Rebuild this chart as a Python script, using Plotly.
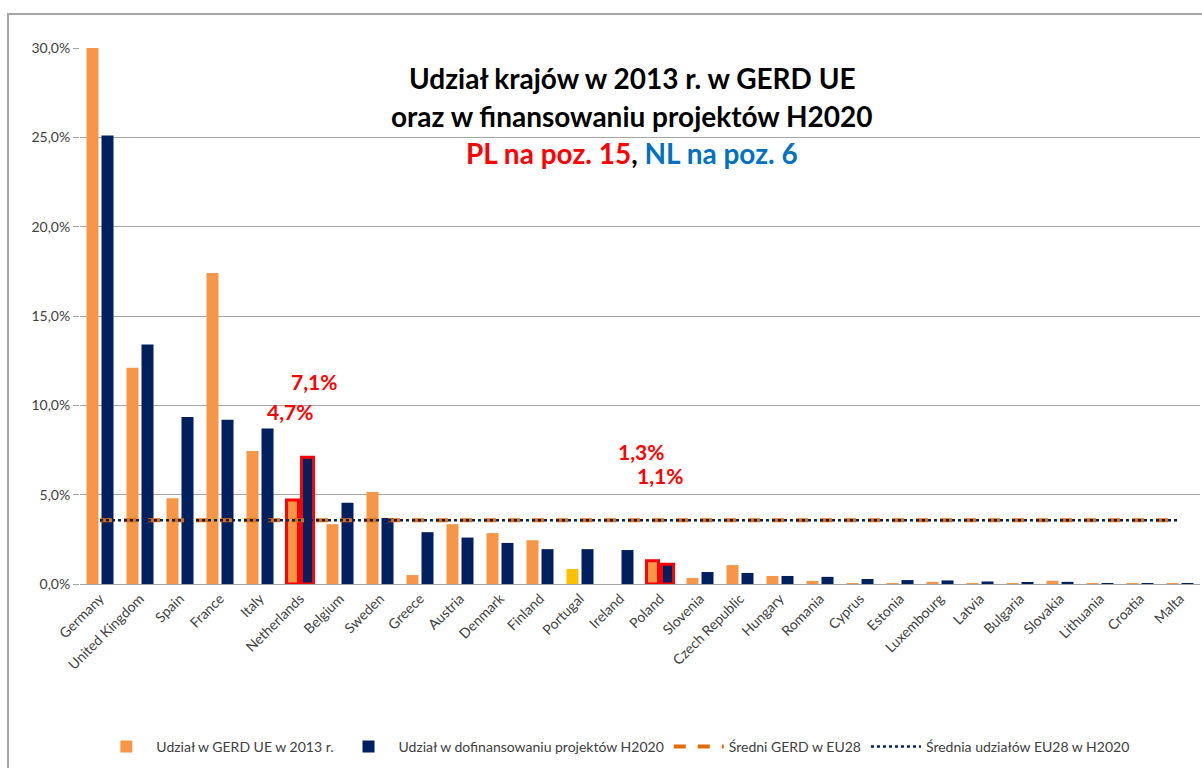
import plotly.graph_objects as go

countries = ["Germany", "United Kingdom", "Spain", "France", "Italy", "Netherlands", "Belgium",
             "Sweden", "Greece", "Austria", "Denmark", "Finland", "Portugal", "Ireland", "Poland",
             "Slovenia", "Czech Republic", "Hungary", "Romania", "Cyprus", "Estonia", "Luxembourg",
             "Latvia", "Bulgaria", "Slovakia", "Lithuania", "Croatia", "Malta"]
gerd_share = [30.0, 12.1, 4.8, 17.4, 7.45, 4.7, 3.35, 5.15, 0.5, 3.35, 2.85, 2.45, 0.84, 0.0, 1.3,
              0.34, 1.06, 0.45, 0.17, 0.02, 0.02, 0.12, 0.02, 0.03, 0.18, 0.02, 0.02, 0.02]
h2020_share = [25.1, 13.4, 9.35, 9.2, 8.7, 7.1, 4.55, 3.7, 2.9, 2.6, 2.3, 1.95, 1.95, 1.9, 1.1,
               0.67, 0.62, 0.45, 0.4, 0.28, 0.22, 0.2, 0.14, 0.1, 0.12, 0.02, 0.02, 0.02]
mean_gerd = [3.57] * len(countries)
mean_h2020 = [3.57] * len(countries)

ORANGE = "#F79646"
NAVY = "#002060"
GOLD = "#FFC000"
RED = "#FF0000"

gerd_colors = [GOLD if c == "Portugal" else ORANGE for c in countries]
hl = {"Netherlands", "Poland"}
line_cols = [RED if c in hl else "rgba(0,0,0,0)" for c in countries]
line_w = [3 if c in hl else 0 for c in countries]

fig = go.Figure()
fig.add_trace(go.Bar(x=countries, y=gerd_share, name="Udział w GERD UE w 2013 r.",
                     marker=dict(color=gerd_colors, line=dict(color=line_cols, width=line_w))))
fig.add_trace(go.Bar(x=countries, y=h2020_share, name="Udział w dofinansowaniu projektów H2020",
                     marker=dict(color=NAVY, line=dict(color=line_cols, width=line_w))))
fig.add_trace(go.Scatter(x=countries, y=mean_gerd, mode="lines", name="Średni GERD w EU28",
                         line=dict(color="#E36C09", width=4, dash="dash")))
fig.add_trace(go.Scatter(x=countries, y=mean_h2020, mode="lines", name="Średnia udziałów EU28 w H2020",
                         line=dict(color=NAVY, width=2.5, dash="dot")))

font_main = "Lato, 'Open Sans', sans-serif"

annos = []
title_lines = [
    ("Udział krajów w 2013 r. w GERD UE", 0.944),
    ("oraz w finansowaniu projektów H2020", 0.873),
    ("<span style='color:#FF0000'>PL na poz. 15</span>, <span style='color:#0070C0'>NL na poz. 6</span>", 0.804),
]
for txt, yy in title_lines:
    annos.append(dict(text=txt, x=0.493, y=yy, xref="paper", yref="paper", showarrow=False,
                      xanchor="center", yanchor="middle",
                      font=dict(family=font_main, size=28, color="#000000", weight="bold")))

for txt, cat, val, xs in [("7,1%", "Netherlands", 11.36, 14), ("4,7%", "Netherlands", 9.68, -10),
                          ("1,3%", "Poland", 7.44, -19), ("1,1%", "Poland", 6.1, 0)]:
    annos.append(dict(text=txt, x=cat, y=val, xref="x", yref="y", showarrow=False, xshift=xs,
                      xanchor="center", yanchor="middle",
                      font=dict(family=font_main, size=21, color=RED, weight="bold")))

fig.update_layout(
    width=1202, height=768,
    margin=dict(l=80, r=2, t=48, b=184),
    paper_bgcolor="white", plot_bgcolor="white",
    separators=", ",
    barmode="group", bargap=0.25, bargroupgap=0.2,
    font=dict(family=font_main, size=14, color="#404040"),
    annotations=annos,
    legend=dict(orientation="h", x=0.478, xanchor="center", y=-0.304, yanchor="middle",
                font=dict(family=font_main, size=14, color="#404040"), traceorder="normal",
                itemwidth=50),
    shapes=[dict(type="rect", xref="paper", yref="paper", x0=-0.0643, x1=1.01, y0=-0.45, y1=1.0634,
                 line=dict(color="#A6A6A6", width=2), fillcolor="rgba(0,0,0,0)", layer="below")],
)
fig.update_xaxes(tickangle=-45, showline=True, linecolor="#A6A6A6", linewidth=1, ticks="",
                 tickfont=dict(size=14, color="#404040"))
fig.update_yaxes(range=[0, 30], dtick=5, tickformat=".1f", ticksuffix="%", showgrid=True,
                 gridcolor="#A6A6A6", gridwidth=1, zeroline=False, showline=False,
                 ticks="outside", ticklen=6, tickcolor="#A6A6A6",
                 tickfont=dict(size=14, color="#404040"))

fig.write_html("out.html", post_script="document.body.style.margin='0px';",
               config={"displayModeBar": False})
